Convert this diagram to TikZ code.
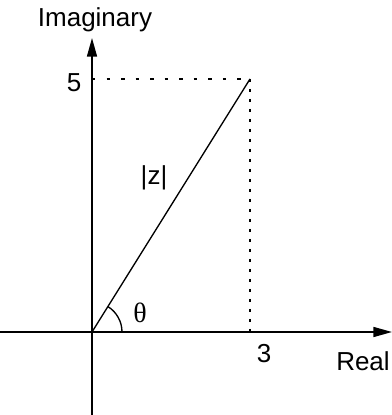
\documentclass[tikz,border=0pt]{standalone}
\usepackage{fontspec}
\setmainfont{Liberation Sans}
\newfontfamily\thetafont{Liberation Serif}
\usetikzlibrary{arrows.meta}
\begin{document}
\begin{tikzpicture}[x=0.75pt,y=0.75pt,
  axis/.style={line width=1.2pt,-{Triangle[length=14pt,width=7.5pt]}},
  vec/.style={line width=1pt},
  hdots/.style={line width=1.6pt,dash pattern=on 2.6pt off 8.3pt},
  vdots/.style={line width=1.6pt,dash pattern=on 2pt off 5.5pt},
  lbl/.style={inner sep=0pt,anchor=base,font=\fontsize{19.5pt}{22pt}\selectfont},
  num/.style={inner sep=0pt,anchor=base,font=\fontsize{19.5pt}{22pt}\selectfont}]
\useasboundingbox (0,0) rectangle (392,415);
\coordinate (O) at (92,83);
\coordinate (P) at (250,336);
\coordinate (Y5) at (92,336);
\coordinate (X3) at (250,83);
\coordinate (ybot) at (92,0);
\coordinate (ytop) at (92,377);
\coordinate (xleft) at (0,83);
\coordinate (xright) at (392,83);
\draw[axis] (ybot) -- (ytop);
\draw[axis] (xleft) -- (xright);
\draw[hdots] (Y5) -- (P);
\draw[vdots] (P) -- (X3);
\draw[vec] (O) -- (P);
\draw[line width=1pt] (O) ++(22.5pt,0) arc[start angle=0,end angle=58,radius=22.5pt];
\node[lbl] (imag) at (95,388) {Imaginary};
\node[lbl] (real) at (363,45) {Real};
\node[num] (five) at (74,323) {5};
\node[num] (three) at (264,52) {3};
\node[num] (absz) at (154,230) {|z|};
\node[inner sep=0pt,anchor=base,font=\thetafont\fontsize{21pt}{23pt}\selectfont] (theta) at (140,93) {θ};
\end{tikzpicture}
\end{document}
